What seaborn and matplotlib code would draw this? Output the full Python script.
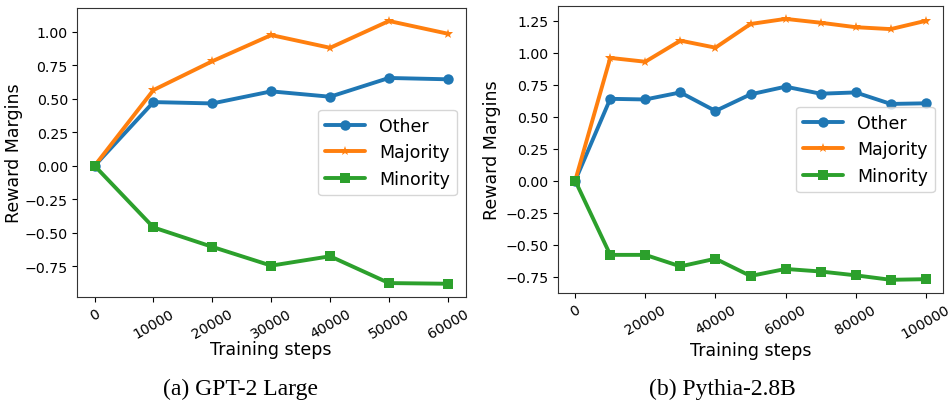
import pandas as pd
import matplotlib
matplotlib.use("Agg")
import matplotlib.pyplot as plt
import seaborn as sns

# GPT-2 Large
gpt_steps = [0, 10000, 20000, 30000, 40000, 50000, 60000]
gpt_other = [0.0, 0.475, 0.465, 0.555, 0.515, 0.655, 0.645]
gpt_majority = [0.0, 0.565, 0.78, 0.975, 0.88, 1.08, 0.985]
gpt_minority = [0.0, -0.46, -0.605, -0.745, -0.675, -0.875, -0.88]

# Pythia-2.8B
pyt_steps = [0, 10000, 20000, 30000, 40000, 50000, 60000, 70000, 80000, 90000, 100000]
pyt_other = [0.0, 0.64, 0.635, 0.69, 0.545, 0.675, 0.735, 0.68, 0.69, 0.60, 0.605]
pyt_majority = [0.0, 0.96, 0.93, 1.095, 1.04, 1.225, 1.265, 1.235, 1.20, 1.185, 1.25]
pyt_minority = [0.0, -0.58, -0.58, -0.67, -0.61, -0.745, -0.69, -0.71, -0.74, -0.775, -0.77]

groups = ["Other", "Majority", "Minority"]
colors = {"Other": "#1f77b4", "Majority": "#ff7f0e", "Minority": "#2ca02c"}
markers = {"Other": "o", "Majority": "*", "Minority": "s"}


def to_long(steps, other, majority, minority):
    rows = []
    for name, vals in zip(groups, [other, majority, minority]):
        for s, v in zip(steps, vals):
            rows.append({"step": s, "margin": v, "group": name})
    return pd.DataFrame(rows)


sns.set_style("ticks", {"axes.edgecolor": "0.2", "text.color": "black",
                        "axes.labelcolor": "black", "xtick.color": "black",
                        "ytick.color": "black"})
plt.rcParams["font.family"] = ["DejaVu Sans"]

fig = plt.figure(figsize=(9.5, 4.02), dpi=100)
ax1 = fig.add_axes([0.081, 0.259, 0.409, 0.719])
ax2 = fig.add_axes([0.587, 0.269, 0.406, 0.714])

panels = [
    (ax1, to_long(gpt_steps, gpt_other, gpt_majority, gpt_minority), gpt_steps,
     [-0.75, -0.5, -0.25, 0, 0.25, 0.5, 0.75, 1.0], "(a) GPT-2 Large", 0.253, 1),
    (ax2, to_long(pyt_steps, pyt_other, pyt_majority, pyt_minority), list(range(0, 100001, 20000)),
     [-0.75, -0.5, -0.25, 0, 0.25, 0.5, 0.75, 1.0, 1.25], "(b) Pythia-2.8B", 0.76, 3),
]

for ax, df, xticks, yticks, caption, cx, ypad in panels:
    sns.lineplot(data=df, x="step", y="margin", hue="group", style="group",
                 hue_order=groups, style_order=groups, palette=colors,
                 markers=markers, dashes=False, linewidth=2.8, markersize=7.5,
                 markeredgewidth=0, ax=ax)
    ax.set_xticks(xticks)
    ax.set_xticklabels([str(t) for t in xticks], rotation=30, ha="center")
    ax.set_yticks(yticks)
    ax.tick_params(labelsize=10.2, pad=3)
    ax.set_xlabel("Training steps", fontsize=12.5, labelpad=0)
    ax.set_ylabel("Reward Margins", fontsize=12.5, labelpad=ypad)
    leg = ax.legend(loc="center right", fontsize=12.5, handlelength=2.3)
    leg.set_title(None)
    fig.text(cx, 0.004, caption, ha="center", va="bottom",
             fontsize=17, family="Liberation Serif")

plt.savefig("out.png", dpi=100)
